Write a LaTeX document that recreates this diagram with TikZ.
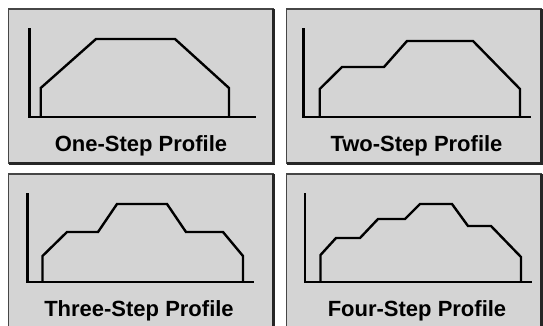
\documentclass[tikz,border=0pt]{standalone}
\usepackage{fontspec}
\setmainfont{Liberation Sans}
\begin{document}
\begin{tikzpicture}[x=1pt,y=-1pt,
  panel/.style={fill=panelgray,draw=edgegray,line width=1.2pt},
  shadow/.style={draw=black!85,line width=3pt},
  axis/.style={draw=black,line width=2.8pt,line cap=butt},
  profile/.style={draw=black,line width=2.4pt,line join=miter},
  caption/.style={anchor=base,inner sep=0pt,font=\fontsize{22}{26}\selectfont\bfseries,text=black}]
\definecolor{panelgray}{RGB}{212,212,212}
\definecolor{edgegray}{RGB}{70,70,70}
\useasboundingbox (0,0) rectangle (543,325);
\clip (0,0) rectangle (543,325);
\fill[white] (0,0) rectangle (543,325);
% panels
\path[panel] (8.5,9) rectangle (273.5,163);
\draw[shadow] (273.5,9) -- (273.5,163) -- (8.5,163);
\path[panel] (286.5,9) rectangle (541.5,163);
\draw[shadow] (541.5,9) -- (541.5,163) -- (286.5,163);
\path[panel] (8.5,174) rectangle (273.5,335);
\draw[shadow] (273.5,174) -- (273.5,335);
\path[panel] (286.5,174) rectangle (541.5,335);
\draw[shadow] (541.5,174) -- (541.5,335);
% panel 1
\draw[axis] (29.5,28) -- (29.5,117) -- (256,117);
\draw[profile] (40.7,117) -- (40.7,88) -- (96,39) -- (175,39) -- (229,88) -- (229,117);
\node[caption] (c1) at (141,151) {One-Step Profile};
% panel 2
\draw[axis] (303.5,28) -- (303.5,117) -- (531,117);
\draw[profile] (319.7,117) -- (319.7,89) -- (342,67) -- (384,67) -- (407,41) -- (473,41) -- (520,89) -- (520,117);
\node[caption] (c2) at (416.5,151) {Two-Step Profile};
% panel 3
\draw[axis] (27.5,193) -- (27.5,282) -- (254,282);
\draw[profile] (42.5,282) -- (42.5,256) -- (67,232) -- (98,232) -- (117,204) -- (167,204) -- (186,232) -- (223,232) -- (243,256) -- (243,282);
\node[caption] (c3) at (139,316.5) {Three-Step Profile};
% panel 4
\draw[axis] (305,193) -- (305,282) -- (532,282);
\draw[profile] (320.5,282) -- (320.5,255) -- (336,238) -- (360,238) -- (378,219) -- (405,219) -- (420,204) -- (452,204) -- (468,226) -- (491,226) -- (521,257) -- (521,282);
\node[caption] (c4) at (417,316.5) {Four-Step Profile};
\end{tikzpicture}
\end{document}
